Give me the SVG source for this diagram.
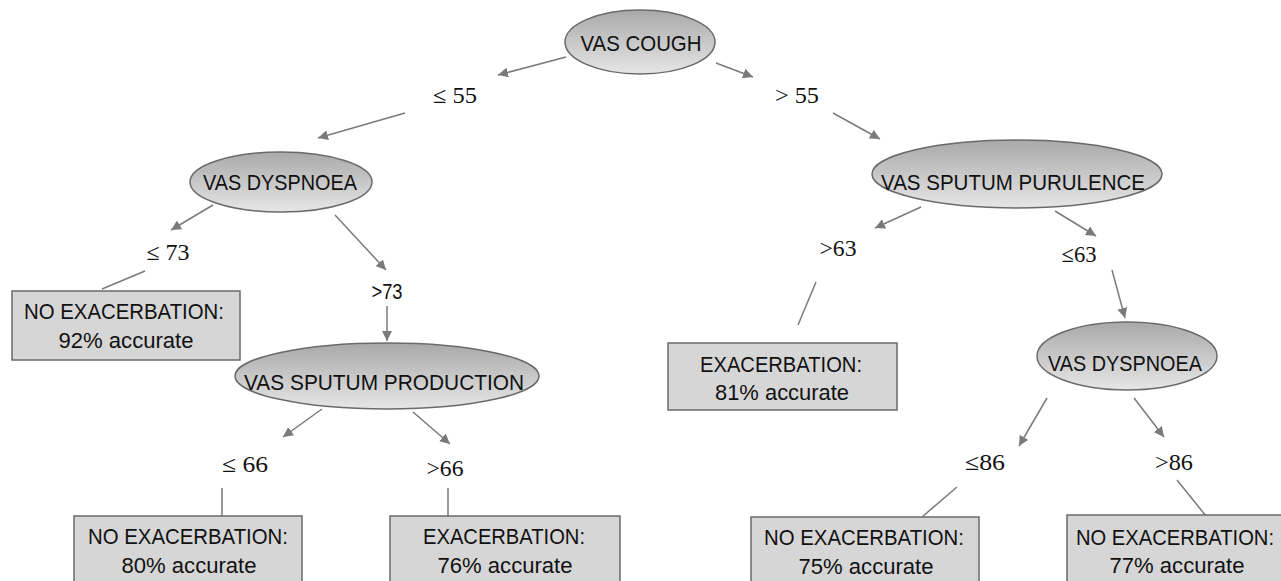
<svg xmlns="http://www.w3.org/2000/svg" width="1281" height="581" viewBox="0 0 1281 581">
<style>
.ell{fill:url(#g);stroke:#6a6a6a;stroke-width:1.5}
.box{fill:#d6d6d6;stroke:#6a6a6a;stroke-width:1.5}
.t{font-family:"Liberation Sans",Arial,sans-serif;font-size:22px;fill:#111;text-anchor:middle}
.s{font-family:"Liberation Serif","Times New Roman",serif;font-size:23px;fill:#111;text-anchor:middle}
.c line{stroke:#7a7a7a;stroke-width:1.5}
.c .a{marker-end:url(#ar)}
</style>
<defs>
<linearGradient id="g" x1="0" y1="0" x2="0" y2="1">
<stop offset="0" stop-color="#a9a9a9"/>
<stop offset="1" stop-color="#e6e6e6"/>
</linearGradient>
<marker id="ar" markerUnits="userSpaceOnUse" markerWidth="12" markerHeight="10" refX="10" refY="5" orient="auto">
<path d="M0,0 L10,5 L0,10 Z" fill="#7a7a7a"/>
</marker>
</defs>
<rect width="1281" height="581" fill="#fff"/>
<g class="c" id="connectors">
<line class="a" x1="566" y1="57" x2="498" y2="75"/>
<line class="a" x1="716" y1="63" x2="753" y2="77"/>
<line class="a" x1="405" y1="113" x2="318" y2="138"/>
<line class="a" x1="833" y1="113" x2="880" y2="139"/>
<line class="a" x1="213" y1="205" x2="171" y2="230"/>
<line class="a" x1="335" y1="215" x2="386" y2="270"/>
<line x1="145" y1="271" x2="102" y2="289"/>
<line class="a" x1="387" y1="306" x2="387" y2="341"/>
<line class="a" x1="322" y1="409" x2="283" y2="437"/>
<line class="a" x1="413" y1="412" x2="450" y2="444"/>
<line x1="222" y1="488" x2="222" y2="516"/>
<line x1="448" y1="488" x2="448" y2="516"/>
<line class="a" x1="921" y1="207" x2="875" y2="228"/>
<line class="a" x1="1055" y1="211" x2="1096" y2="236"/>
<line x1="816" y1="282" x2="798" y2="325"/>
<line class="a" x1="1112" y1="270" x2="1125" y2="318"/>
<line class="a" x1="1047" y1="398" x2="1019" y2="446"/>
<line class="a" x1="1134" y1="398" x2="1164" y2="437"/>
<line x1="957" y1="487" x2="922" y2="517"/>
<line x1="1177" y1="480" x2="1206" y2="516"/>
</g>
<g id="labels">
<text class="s" x="455" y="103" textLength="44" lengthAdjust="spacingAndGlyphs">≤ 55</text>
<text class="s" x="797" y="103" textLength="44" lengthAdjust="spacingAndGlyphs">&gt; 55</text>
<text class="s" x="168" y="260" textLength="43" lengthAdjust="spacingAndGlyphs">≤ 73</text>
<text class="t" x="387" y="299" textLength="31" lengthAdjust="spacingAndGlyphs">&gt;73</text>
<text class="s" x="245" y="472" textLength="46" lengthAdjust="spacingAndGlyphs">≤ 66</text>
<text class="s" x="445" y="476" textLength="37" lengthAdjust="spacingAndGlyphs">&gt;66</text>
<text class="s" x="838" y="256" textLength="37" lengthAdjust="spacingAndGlyphs">&gt;63</text>
<text class="s" x="1079" y="262" textLength="35" lengthAdjust="spacingAndGlyphs">≤63</text>
<text class="s" x="985" y="470" textLength="40" lengthAdjust="spacingAndGlyphs">≤86</text>
<text class="s" x="1174" y="470" textLength="38" lengthAdjust="spacingAndGlyphs">&gt;86</text>
</g>
<g id="n-cough">
<ellipse class="ell" cx="640" cy="42" rx="75" ry="32"/>
<text class="t" x="641" y="51" textLength="121" lengthAdjust="spacingAndGlyphs">VAS COUGH</text>
</g>
<g id="n-dysp1">
<ellipse class="ell" cx="281" cy="182" rx="91" ry="30"/>
<text class="t" x="280" y="190" textLength="154" lengthAdjust="spacingAndGlyphs">VAS DYSPNOEA</text>
</g>
<g id="n-box92">
<rect class="box" x="12" y="291" width="228" height="69"/>
<text class="t" x="124" y="319" textLength="200" lengthAdjust="spacingAndGlyphs">NO EXACERBATION:</text>
<text class="t" x="126" y="348" textLength="135" lengthAdjust="spacingAndGlyphs">92% accurate</text>
</g>
<g id="n-prod">
<ellipse class="ell" cx="387" cy="376" rx="152" ry="33"/>
<text class="t" x="384" y="390" textLength="280" lengthAdjust="spacingAndGlyphs">VAS SPUTUM PRODUCTION</text>
</g>
<g id="n-box80">
<rect class="box" x="74" y="516" width="228" height="70"/>
<text class="t" x="188" y="544" textLength="200" lengthAdjust="spacingAndGlyphs">NO EXACERBATION:</text>
<text class="t" x="189" y="573" textLength="135" lengthAdjust="spacingAndGlyphs">80% accurate</text>
</g>
<g id="n-box76">
<rect class="box" x="390" y="516" width="230" height="70"/>
<text class="t" x="504" y="544" textLength="162" lengthAdjust="spacingAndGlyphs">EXACERBATION:</text>
<text class="t" x="505" y="573" textLength="135" lengthAdjust="spacingAndGlyphs">76% accurate</text>
</g>
<g id="n-purul">
<ellipse class="ell" cx="1017" cy="174" rx="145" ry="34"/>
<text class="t" x="1013" y="190" textLength="264" lengthAdjust="spacingAndGlyphs">VAS SPUTUM PURULENCE</text>
</g>
<g id="n-box81">
<rect class="box" x="668" y="343" width="229" height="67"/>
<text class="t" x="781" y="372" textLength="162" lengthAdjust="spacingAndGlyphs">EXACERBATION:</text>
<text class="t" x="782" y="400" textLength="134" lengthAdjust="spacingAndGlyphs">81% accurate</text>
</g>
<g id="n-dysp2">
<ellipse class="ell" cx="1127" cy="356" rx="90" ry="34"/>
<text class="t" x="1125" y="371" textLength="154" lengthAdjust="spacingAndGlyphs">VAS DYSPNOEA</text>
</g>
<g id="n-box75">
<rect class="box" x="751" y="517" width="228" height="70"/>
<text class="t" x="864" y="545" textLength="200" lengthAdjust="spacingAndGlyphs">NO EXACERBATION:</text>
<text class="t" x="866" y="574" textLength="135" lengthAdjust="spacingAndGlyphs">75% accurate</text>
</g>
<g id="n-box77">
<rect class="box" x="1067" y="515" width="220" height="70"/>
<text class="t" x="1175" y="545" textLength="198" lengthAdjust="spacingAndGlyphs">NO EXACERBATION:</text>
<text class="t" x="1177" y="573" textLength="135" lengthAdjust="spacingAndGlyphs">77% accurate</text>
</g>
</svg>
